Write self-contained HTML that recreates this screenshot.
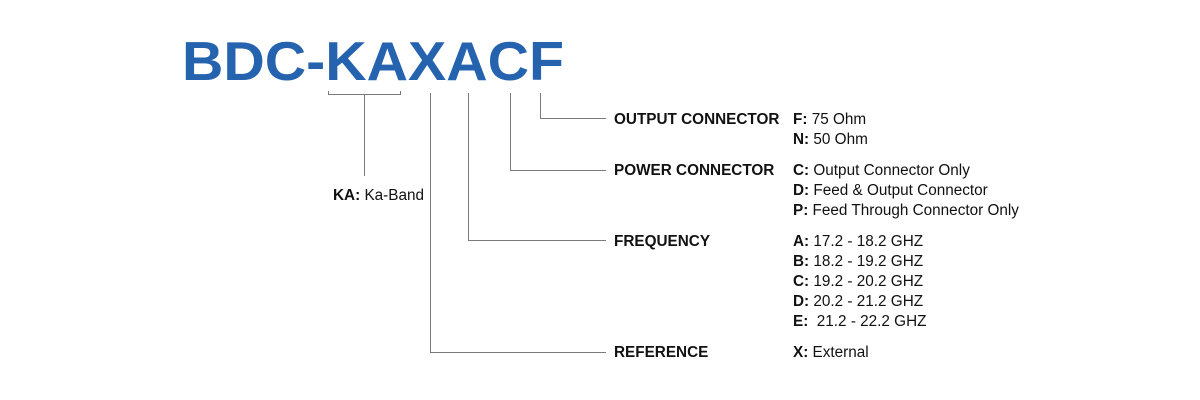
<!DOCTYPE html>
<html><head><meta charset="utf-8"><style>
html,body{margin:0;padding:0;background:#fff;}
svg{display:block}
text{font-family:"Liberation Sans",Arial,sans-serif;font-size:15.3px;fill:#111}
.b{font-weight:bold}
</style></head><body>
<svg width="1200" height="400" viewBox="0 0 1200 400">
<text x="182" y="80" class="b" style="font-size:55px;fill:#2563ae" textLength="382" lengthAdjust="spacingAndGlyphs">BDC-KAXACF</text>
<g stroke="#7a7a7a" stroke-width="1" fill="none">
<path d="M328.5 91V94.5H400.5V91"/>
<path d="M364.5 94.5V176"/>
<path d="M430.5 93V352.5H606"/>
<path d="M468.5 93V240.5H606"/>
<path d="M510.5 93V170.5H606"/>
<path d="M540.5 93V118.5H606"/>
</g>
<text x="333" y="200"><tspan class="b">KA:</tspan> Ka-Band</text>
<text x="614" y="124" class="b">OUTPUT CONNECTOR</text>
<text x="614" y="175" class="b">POWER CONNECTOR</text>
<text x="614" y="246" class="b">FREQUENCY</text>
<text x="614" y="357" class="b">REFERENCE</text>
<text x="793" y="124"><tspan class="b">F:</tspan> 75 Ohm</text>
<text x="793" y="144"><tspan class="b">N:</tspan> 50 Ohm</text>
<text x="793" y="175"><tspan class="b">C:</tspan> Output Connector Only</text>
<text x="793" y="195"><tspan class="b">D:</tspan> Feed &amp; Output Connector</text>
<text x="793" y="215"><tspan class="b">P:</tspan> Feed Through Connector Only</text>
<text x="793" y="246"><tspan class="b">A:</tspan> 17.2 - 18.2 GHZ</text>
<text x="793" y="266"><tspan class="b">B:</tspan> 18.2 - 19.2 GHZ</text>
<text x="793" y="286"><tspan class="b">C:</tspan> 19.2 - 20.2 GHZ</text>
<text x="793" y="306"><tspan class="b">D:</tspan> 20.2 - 21.2 GHZ</text>
<text x="793" y="326" xml:space="preserve"><tspan class="b">E:</tspan>  21.2 - 22.2 GHZ</text>
<text x="793" y="357"><tspan class="b">X:</tspan> External</text>
</svg>
</body></html>
